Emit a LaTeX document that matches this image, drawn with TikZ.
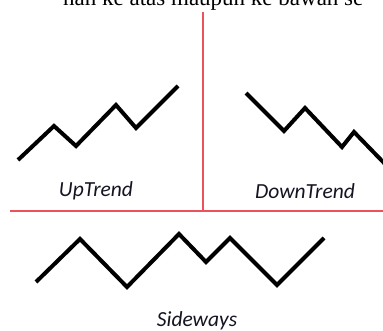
\documentclass[tikz,border=0pt]{standalone}
\usepackage{fontspec}
\setmainfont{Carlito}
\newfontfamily\seriffont{Liberation Serif}
\definecolor{divred}{RGB}{236,82,92}
\definecolor{labelink}{RGB}{20,20,35}
\begin{document}
\begin{tikzpicture}[x=1pt,y=-1pt,
  trendline/.style={line width=4pt,black,line join=miter,line cap=butt},
  divider/.style={line width=1.2pt,divred},
  trendlabel/.style={inner sep=0pt,anchor=base,text=labelink,font=\fontsize{21.5}{25}\selectfont\itshape},
  cuttext/.style={inner sep=0pt,anchor=base west,font=\seriffont\fontsize{23}{27}\selectfont}]
\useasboundingbox (0,0) rectangle (383,331);
\clip (0,0) rectangle (383,331);
\node[cuttext] (top) at (63,5.5) {nan ke atas maupun ke bawah se};
% dividers
\coordinate (vtop) at (203,12);
\coordinate (cross) at (203,211);
\coordinate (hleft) at (10,211);
\coordinate (hright) at (384,211);
\draw[divider] (vtop) -- (cross);
\draw[divider] (hleft) -- (hright);
% trends
\draw[trendline] (18,160) -- (54,126) -- (76,146) -- (116,105) -- (136,128) -- (178,86);
\draw[trendline] (246,93) -- (284,131) -- (305,108) -- (342,147) -- (354,132) -- (386,165);
\draw[trendline] (36,282) -- (80,239) -- (127,287) -- (179,234) -- (206,262) -- (230,238) -- (277,285) -- (324,238);
% labels
\node[trendlabel] (up) at (96,197) {UpTrend};
\node[trendlabel] (down) at (305,198.5) {DownTrend};
\node[trendlabel] (side) at (197,326.5) {Sideways};
\end{tikzpicture}
\end{document}
